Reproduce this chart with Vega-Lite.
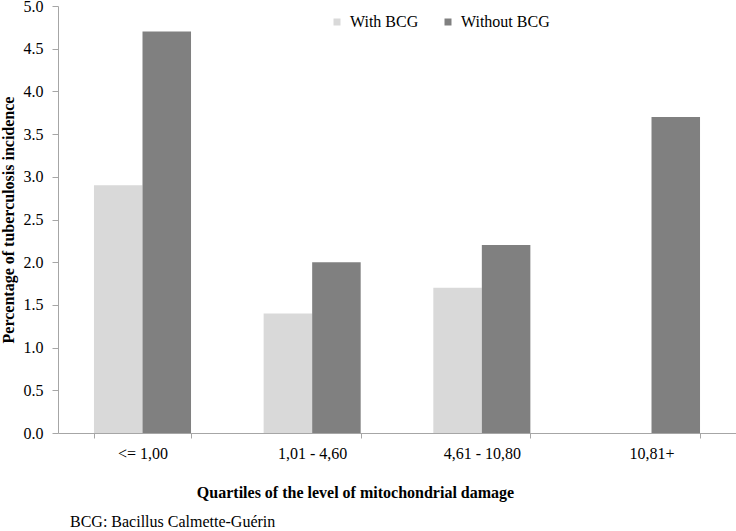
{
  "$schema": "https://vega.github.io/schema/vega-lite/v6.json",
  "width": 678,
  "height": 427,
  "autosize": {"type": "none"},
  "padding": {"left": 58, "top": 6, "right": 0, "bottom": 98},
  "background": "white",
  "config": {
    "font": "Times New Roman, Liberation Serif, DejaVu Serif, serif",
    "view": {"stroke": null},
    "axis": {"grid": false}
  },
  "title": {
    "text": "BCG: Bacillus Calmette-Guérin",
    "orient": "bottom",
    "anchor": "start",
    "frame": "group",
    "dx": 12,
    "offset": 27,
    "baseline": "alphabetic",
    "font": "Times New Roman, Liberation Serif, DejaVu Serif, serif",
    "fontSize": 16,
    "fontWeight": "normal",
    "color": "#000000"
  },
  "data": {
    "values": [
      {"quartile": "<= 1,00", "group": "With BCG", "value": 2.9},
      {"quartile": "<= 1,00", "group": "Without BCG", "value": 4.7},
      {"quartile": "1,01 - 4,60", "group": "With BCG", "value": 1.4},
      {"quartile": "1,01 - 4,60", "group": "Without BCG", "value": 2.0},
      {"quartile": "4,61 - 10,80", "group": "With BCG", "value": 1.7},
      {"quartile": "4,61 - 10,80", "group": "Without BCG", "value": 2.2},
      {"quartile": "10,81+", "group": "Without BCG", "value": 3.7}
    ]
  },
  "mark": {"type": "bar"},
  "encoding": {
    "x": {
      "field": "quartile",
      "type": "nominal",
      "sort": ["<= 1,00", "1,01 - 4,60", "4,61 - 10,80", "10,81+"],
      "scale": {"paddingInner": 0.428, "paddingOuter": 0.212},
      "axis": {
        "title": "Quartiles of the level of mitochondrial damage",
        "titleFont": "Times New Roman, Liberation Serif, DejaVu Serif, serif",
        "titleFontSize": 16,
        "titleFontWeight": "bold",
        "titleColor": "#000000",
        "titleX": 297,
        "titleY": 64,
        "titleBaseline": "alphabetic",
        "titleAlign": "center",
        "labelAngle": 0,
        "labelFont": "Times New Roman, Liberation Serif, DejaVu Serif, serif",
        "labelFontSize": 16,
        "labelColor": "#000000",
        "labelBaseline": "alphabetic",
        "labelPadding": 20,
        "tickBand": "extent",
        "tickSize": 5,
        "tickColor": "#a6a6a6",
        "domainColor": "#a6a6a6"
      }
    },
    "xOffset": {
      "field": "group",
      "type": "nominal",
      "scale": {"domain": ["With BCG", "Without BCG"], "paddingInner": 0, "paddingOuter": 0}
    },
    "y": {
      "field": "value",
      "type": "quantitative",
      "scale": {"domain": [0, 5], "nice": false},
      "axis": {
        "title": "Percentage of tuberculosis incidence",
        "titleFont": "Times New Roman, Liberation Serif, DejaVu Serif, serif",
        "titleFontSize": 16,
        "titleFontWeight": "bold",
        "titleColor": "#000000",
        "titlePadding": 7,
        "values": [0, 0.5, 1, 1.5, 2, 2.5, 3, 3.5, 4, 4.5, 5],
        "format": ".1f",
        "labelFont": "Times New Roman, Liberation Serif, DejaVu Serif, serif",
        "labelFontSize": 16,
        "labelColor": "#000000",
        "labelPadding": 9,
        "tickSize": 6,
        "tickColor": "#a6a6a6",
        "domainColor": "#a6a6a6"
      }
    },
    "color": {
      "field": "group",
      "type": "nominal",
      "scale": {"domain": ["With BCG", "Without BCG"], "range": ["#d9d9d9", "#808080"]},
      "legend": {
        "title": null,
        "orient": "none",
        "direction": "horizontal",
        "legendX": 271,
        "legendY": 8,
        "padding": 0,
        "symbolType": "square",
        "symbolSize": 49,
        "symbolStrokeWidth": 0,
        "symbolOpacity": 1,
        "labelFont": "Times New Roman, Liberation Serif, DejaVu Serif, serif",
        "labelFontSize": 16,
        "labelColor": "#000000",
        "labelOffset": 5,
        "columnPadding": 21
      }
    }
  }
}
